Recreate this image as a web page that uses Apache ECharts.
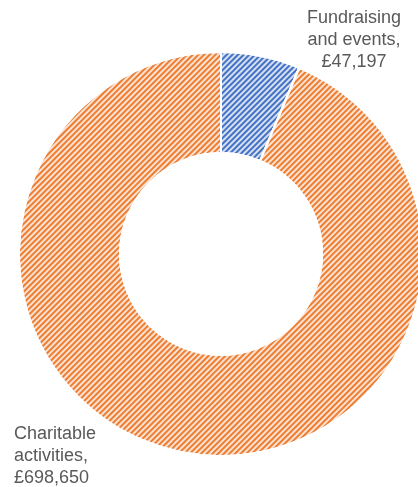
<!DOCTYPE html>
<html>
<head>
<meta charset="utf-8">
<script src="https://cdn.jsdelivr.net/npm/echarts@6/dist/echarts.min.js"></script>
<style>html,body{margin:0;padding:0;background:#fff;}#c{width:418px;height:487px;}</style>
</head>
<body>
<div id="c"></div>
<script>
var categories = ['Fundraising\nand events', 'Charitable\nactivities'];
var values = [47197, 698650];
var colors = ['#4472C4', '#ED7D31'];
var labelPos = [[354, 40, 'center'], [14, 456, 'left']];

function fmt(v){ return '£' + v.toLocaleString('en-GB'); }

var chart = echarts.init(document.getElementById('c'), null, {renderer:'canvas'});
chart.setOption({
  animation: false,
  series: [{
    type: 'pie',
    center: [221, 254],
    radius: [101, 202],
    startAngle: 90,
    clockwise: true,
    avoidLabelOverlap: false,
    itemStyle: { borderColor: '#ffffff', borderWidth: 2 },
    label: {
      show: true,
      position: 'outside',
      fontFamily: 'Liberation Sans, Arial, sans-serif',
      fontSize: 18,
      lineHeight: 22,
      color: '#595959',
      formatter: function(p){ return p.name + ',\n' + fmt(p.value); }
    },
    labelLine: { show: false },
    labelLayout: function(p){
      var lp = labelPos[p.dataIndex];
      return { x: lp[0], y: lp[1], align: lp[2], verticalAlign: 'middle' };
    },
    data: categories.map(function(n, i){
      return {
        name: n, value: values[i],
        itemStyle: {
          color: colors[i],
          decal: { symbol: 'rect', dashArrayX: [1, 0], dashArrayY: [1.7, 1.1], rotation: -Math.PI/4, color: 'rgba(255,255,255,0.78)' }
        },
        label: { align: labelPos[i][2] }
      };
    })
  }]
});
</script>
</body>
</html>
